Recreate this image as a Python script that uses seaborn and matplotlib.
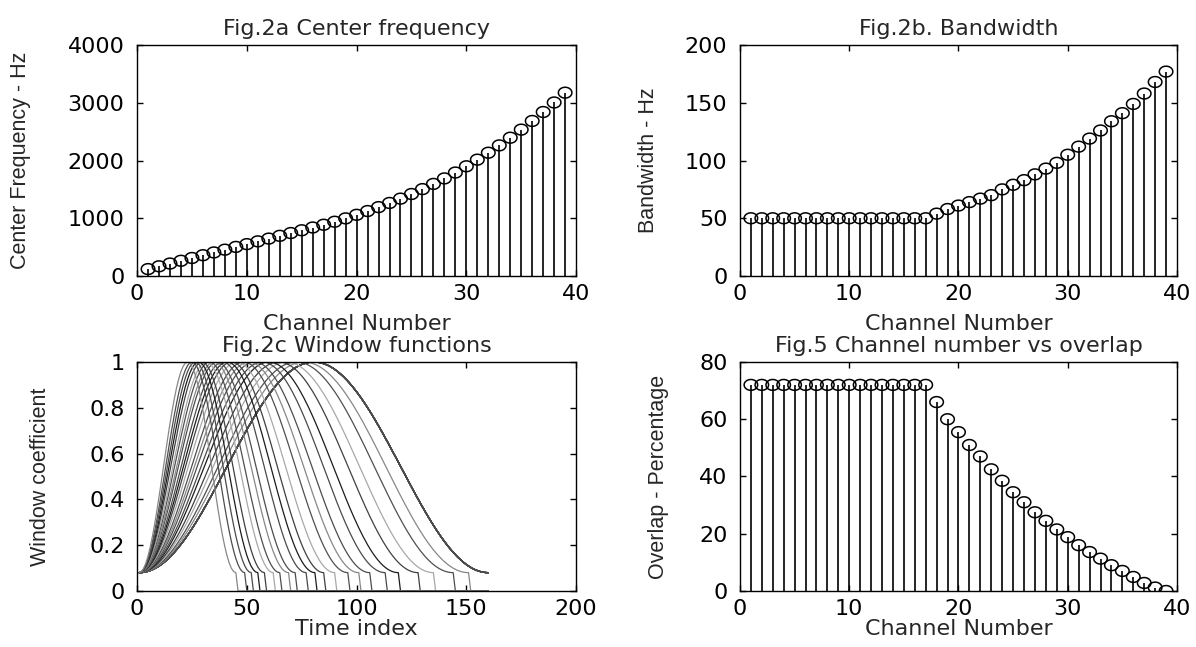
import numpy as np
import pandas as pd
import seaborn as sns
import matplotlib
matplotlib.use("Agg")
import matplotlib.pyplot as plt
from matplotlib.path import Path

# channel data
channels = list(range(1, 40))
center_freq = [120, 168, 216, 264, 312, 360, 408, 456, 504, 552,
               600, 648, 696, 744, 792, 840, 888, 940, 998, 1060,
               1125, 1193, 1265, 1340, 1420, 1505, 1595, 1690, 1792, 1900,
               2015, 2135, 2262, 2395, 2535, 2685, 2840, 3005, 3175]
bandwidth = [50, 50, 50, 50, 50, 50, 50, 50, 50, 50,
             50, 50, 50, 50, 50, 50, 50, 54, 58, 61,
             64, 67, 70, 75, 79, 83, 88, 93, 98, 105,
             112, 119, 126, 134, 141, 149, 158, 168, 177]
overlap = [72, 72, 72, 72, 72, 72, 72, 72, 72, 72,
           72, 72, 72, 72, 72, 72, 72, 66, 60, 55.5,
           51, 47, 42.5, 38.5, 34.5, 31, 27.5, 24.5, 21.5, 18.8,
           16, 13.6, 11.3, 9, 7, 4.9, 2.8, 1.2, 0]
# hamming window length per channel (samples), padded to 160
win_len = [160, 160, 160, 160, 160, 160, 160, 160, 160, 160,
           160, 160, 160, 160, 160, 160, 160, 151, 144, 135,
           128, 119, 113, 106, 101, 96, 90, 85, 81, 77,
           72, 69, 65, 62, 58, 55, 52, 49, 45]
n_time = 160

channel_ticks = [0, 10, 20, 30, 40]
cf_ticks = [0, 1000, 2000, 3000, 4000]
bw_ticks = [0, 50, 100, 150, 200]
time_ticks = [0, 50, 100, 150, 200]
win_ticks = [0, 0.2, 0.4, 0.6, 0.8, 1]
win_tick_labels = ["0", "0.2", "0.4", "0.6", "0.8", "1"]
ov_ticks = [0, 20, 40, 60, 80]

# matlab default line colours, printed in grey
greys = ["0.11", "0.29", "0.30", "0.53", "0.31", "0.66", "0.25"]

sns.set_style("ticks", {"xtick.direction": "in", "ytick.direction": "in",
                        "axes.edgecolor": "black"})
plt.rcParams["font.family"] = ["DejaVu Sans"]
plt.rcParams["font.size"] = 16
plt.rcParams["axes.linewidth"] = 1.0

# the original figure is stretched sideways, so circles come out as wide ovals
theta = np.linspace(0, 2 * np.pi, 41)
oval = Path(np.column_stack([1.25 * np.cos(theta), np.sin(theta)]), closed=True)

fig = plt.figure(figsize=(11.96, 6.47), dpi=100)
ax_a = fig.add_axes([0.1146, 0.5734, 0.3671, 0.3570])
ax_b = fig.add_axes([0.6187, 0.5734, 0.3654, 0.3570])
ax_c = fig.add_axes([0.1146, 0.0866, 0.3671, 0.3539])
ax_d = fig.add_axes([0.6187, 0.0866, 0.3654, 0.3539])


def stem(ax, y):
    ax.vlines(channels, 0, y, color="black", lw=1.2, zorder=2)
    sns.scatterplot(x=channels, y=y, ax=ax, marker=oval, s=95,
                    facecolor="none", edgecolor="black", linewidth=1.1, zorder=3)


stem(ax_a, center_freq)
stem(ax_b, bandwidth)
stem(ax_d, overlap)

# window functions
rows = []
for ch, L in zip(channels, win_len):
    w = np.zeros(n_time)
    w[:L] = np.hamming(L)
    rows.append(pd.DataFrame({"t": np.arange(1, n_time + 1), "w": w, "ch": ch}))
win_df = pd.concat(rows, ignore_index=True)
palette = [greys[i % len(greys)] for i in range(len(channels))]
sns.lineplot(data=win_df, x="t", y="w", hue="ch", palette=palette, ax=ax_c,
             legend=False, estimator=None, sort=False, lw=0.9)

setup = [
    (ax_a, channel_ticks, cf_ticks, None, (0, 40), (0, 4000),
     "Fig.2a Center frequency", "Channel Number", "Center Frequency - Hz", -0.242, -0.165),
    (ax_b, channel_ticks, bw_ticks, None, (0, 40), (0, 200),
     "Fig.2b. Bandwidth", "Channel Number", "Bandwidth - Hz", -0.185, -0.165),
    (ax_c, time_ticks, win_ticks, win_tick_labels, (0, 200), (0, 1),
     "Fig.2c Window functions", "Time index", "Window coefficient", -0.196, -0.122),
    (ax_d, channel_ticks, ov_ticks, None, (0, 40), (0, 80),
     "Fig.5 Channel number vs overlap", "Channel Number", "Overlap - Percentage", -0.162, -0.122),
]
for ax, xt, yt, ytl, xl, yl, title, xlab, ylab, ylx, xly in setup:
    ax.set_xlim(*xl)
    ax.set_ylim(*yl)
    ax.set_xticks(xt)
    ax.set_yticks(yt)
    if ytl is not None:
        ax.set_yticklabels(ytl)
    ax.tick_params(which="both", direction="in", top=True, right=True,
                   length=4, width=1, colors="black", labelsize=16)
    ax.tick_params(axis="x", pad=6)
    ax.tick_params(axis="y", pad=9)
    for s in ax.spines.values():
        s.set_visible(True)
        s.set_color("black")
    ax.set_title(title, pad=7, fontsize=16)
    ax.set_xlabel(xlab, fontsize=16)
    # vertical labels are not stretched in the original, so use a narrow face
    ax.set_ylabel(ylab, fontsize=15.5,
                  family=["Liberation Sans Narrow", "Liberation Sans", "DejaVu Sans"])
    ax.xaxis.set_label_coords(0.5, xly)
    ax.yaxis.set_label_coords(ylx, 0.5)

fig.savefig("out.png", dpi=100, facecolor="white")
